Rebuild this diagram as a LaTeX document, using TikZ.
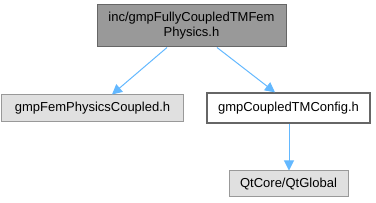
\documentclass[tikz,border=0pt]{standalone}
\usepackage{fontspec}
\setmainfont{Liberation Sans}
\usetikzlibrary{arrows.meta}
\definecolor{edgeblue}{HTML}{63B8FF}
\tikzset{
  x=1pt,y=-1pt,
  box/.style={draw, rectangle, inner sep=0pt, font=\fontsize{13}{15}\selectfont, align=center, line width=1pt},
  topbox/.style={box, fill=black!40, draw=black!60},
  greybox/.style={box, fill=black!12, draw=black!40},
  whitebox/.style={box, fill=white, draw=black!60, line width=1.3pt},
  edge/.style={draw=edgeblue, line width=1pt, -{Triangle[length=10pt,width=10pt]}}
}
\begin{document}
\begin{tikzpicture}
\useasboundingbox (0,0) rectangle (376,203);
\node[topbox, minimum width=189pt, minimum height=42pt] (top) at (191.5,26) {inc/gmpFullyCoupledTMFem\\Physics.h};
\node[greybox, minimum width=181pt, minimum height=27pt] (left) at (92.5,108.5) {gmpFemPhysicsCoupled.h};
\node[whitebox, minimum width=163pt, minimum height=30pt] (right) at (288.5,108) {gmpCoupledTMConfig.h};
\node[greybox, minimum width=119pt, minimum height=26pt] (bot) at (288.5,184) {QtCore/QtGlobal};
\draw[edge] (top.south -| 167,0) -- (left.north -| 112,0);
\draw[edge] (top.south -| 217,0) -- (right.north -| 275,0);
\draw[edge] (right.south -| 289,0) -- (bot.north -| 289,0);
\end{tikzpicture}
\end{document}
